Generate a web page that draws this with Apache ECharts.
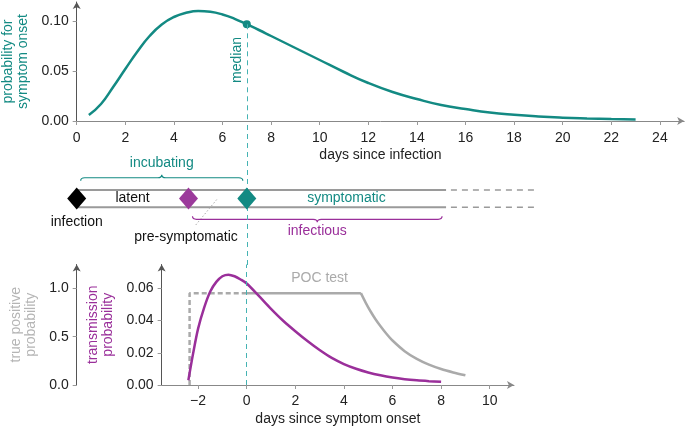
<!DOCTYPE html>
<html><head><meta charset="utf-8">
<script src="https://cdn.jsdelivr.net/npm/echarts@6/dist/echarts.min.js"></script>
<style>html,body{margin:0;padding:0;background:#fff}#c{width:685px;height:428px}</style>
</head><body><div id="c"></div>
<script>
// ---------------- data ----------------
// top: incubation period distribution
const onsetDays = [0.5,1,1.5,2,2.5,3,3.5,4,4.5,5,5.5,6,6.5,7,7.5,8,9,10,11,12,13,14,15,16,17,18,19,20,21,22,23];
const onsetProb = [0.006,0.017,0.034,0.052,0.0695,0.085,0.0965,0.104,0.1082,0.110,0.1092,0.1065,0.1022,0.0967,0.091,0.085,0.073,0.061,0.049,0.038,0.029,0.022,0.016,0.012,0.0085,0.0062,0.0045,0.0033,0.0025,0.0019,0.0015];
const medianDay = 7;
const medianProb = 0.0967;
const topXTicks = [0,2,4,6,8,10,12,14,16,18,20,22,24];
const topYTicks = [0,0.05,0.10];

// middle: timeline (days since infection)
const eventNames = ['infection','infectious onset','symptom onset'];
const eventDays = [0, 4.6, 7];
const railSolidEnd = 15.2;
const railDashedEnd = 19;
const phaseNames = ['latent','symptomatic'];
const phaseDays = [2.3, 11.1];
const braceNames = ['incubating','infectious'];
const braceStart = [0, 4.6];
const braceEnd = [7, 15.2];

// bottom: days since symptom onset
const transDays = [-2.4,-2.2,-2,-1.75,-1.5,-1.25,-1,-0.75,-0.5,-0.25,0,0.5,1,1.5,2,2.5,3,3.5,4,4.5,5,5.5,6,6.5,7,7.5,8];
const transProb = [0.003,0.020,0.035,0.048,0.058,0.064,0.0675,0.0685,0.0675,0.0655,0.063,0.0553,0.0473,0.0399,0.0334,0.0273,0.0217,0.0168,0.0130,0.0101,0.0078,0.0060,0.0046,0.0036,0.0029,0.0024,0.0020];
const pocLeadDays = [-2.35,-2.35,0];
const pocLeadProb = [0,0.95,0.95];
const pocPlateauDays = [0,4.7];
const pocPlateauProb = [0.95,0.95];
const pocDecayDays = [4.7,4.9,5.1,5.3,5.5,5.75,6,6.5,7,7.5,8,8.5,9];
const pocDecayProb = [0.95,0.85,0.76,0.68,0.61,0.53,0.46,0.35,0.27,0.21,0.165,0.13,0.10];
const bottomXTicks = [-2,0,2,4,6,8,10];
const transTicks = [0,0.02,0.04,0.06];
const tpTicks = [0,0.5,1.0];

// ---------------- styling / layout ----------------
const FONT = "'Liberation Sans', Arial, Helvetica, sans-serif";
const TEAL = '#138a83', PURPLE = '#9a2f9a', GRAY = '#aaaaaa', MED = '#45b3b3', TXT = '#222';
const PXD = 24.3;
// positions within the middle panel (0 = bottom, 1 = top)
const MID = {railTop:0.521, railBot:0.401, rail:0.462, braceAbove:0.606, braceAboveLabel:0.706,
             braceBelow:0.317, braceBelowLabel:0.236, eventLabel:0.301, presymLabel:0.192, leaderStart:0.278};

const zip = (a,b) => a.map((v,i)=>[v,b[i]]);
const axLine = (c) => ({show:true, onZero:false, symbol:['none','arrow'], symbolSize:[6,7], lineStyle:{color:c, width:1}});
const lbl = {color:TXT, fontSize:14, fontFamily:FONT};

function valAxis(o){
  return Object.assign({type:'value', splitLine:{show:false}}, o);
}

const chart = echarts.init(document.getElementById('c'));
const option = {
  animation:false,
  textStyle:{fontFamily:FONT},
  grid:[
    {left:76.7, top:2, width:25*PXD, height:119, outerBoundsMode:'none'},
    {left:76.7, top:121, width:25*PXD, height:144, outerBoundsMode:'none'},
    {left:246.7-3.5*PXD, top:264.5, width:14.5*PXD, height:120.5, outerBoundsMode:'none'}
  ],
  xAxis:[
    valAxis({gridIndex:0, min:0, max:25, axisLine:axLine('#888'),
      axisTick:{show:true, customValues:topXTicks, length:4, lineStyle:{color:'#999'}},
      axisLabel:Object.assign({customValues:topXTicks, margin:10}, lbl),
      name:'days since infection', nameLocation:'middle', nameGap:27, nameTextStyle:lbl}),
    valAxis({gridIndex:1, min:0, max:25, show:false}),
    valAxis({gridIndex:2, min:-3.5, max:11, axisLine:axLine('#888'),
      axisTick:{show:true, customValues:bottomXTicks, length:4, lineStyle:{color:'#999'}},
      axisLabel:Object.assign({customValues:bottomXTicks, margin:9, formatter:v=> v<0 ? '\u2212'+Math.abs(v) : String(v)}, lbl),
      name:'days since symptom onset', nameLocation:'middle', nameGap:27, nameTextStyle:lbl})
  ],
  yAxis:[
    valAxis({gridIndex:0, min:0, max:0.119, axisLine:axLine('#555'),
      axisTick:{show:true, customValues:topYTicks, length:4, lineStyle:{color:'#999'}},
      axisLabel:Object.assign({customValues:topYTicks, margin:8, formatter:v=>v.toFixed(2)}, lbl),
      name:'probability for\nsymptom onset', nameLocation:'middle', nameRotate:90, nameGap:46,
      nameTextStyle:{color:TEAL, fontSize:14, lineHeight:15, fontFamily:FONT}}),
    valAxis({gridIndex:1, min:0, max:1, show:false}),
    valAxis({gridIndex:2, min:0, max:0.0748, position:'left', offset:0, axisLine:axLine('#555'),
      axisTick:{show:true, customValues:transTicks, length:4, lineStyle:{color:'#999'}},
      axisLabel:Object.assign({customValues:transTicks, margin:8, formatter:v=>v.toFixed(2)}, lbl),
      name:'transmission\nprobability', nameLocation:'middle', nameRotate:90, nameGap:42,
      nameTextStyle:{color:PURPLE, fontSize:14, lineHeight:15, fontFamily:FONT}}),
    valAxis({gridIndex:2, min:0, max:1.246, position:'left', offset:246.7-3.5*PXD-76.7, axisLine:axLine('#555'),
      axisTick:{show:true, customValues:tpTicks, length:4, lineStyle:{color:'#999'}},
      axisLabel:Object.assign({customValues:tpTicks, margin:8, formatter:v=>v.toFixed(1)}, lbl),
      name:'true positive\nprobability', nameLocation:'middle', nameRotate:90, nameGap:37,
      nameTextStyle:{color:'#b5b5b5', fontSize:14, lineHeight:15, fontFamily:FONT}})
  ],
  series:[]
};

const S = option.series;
const medianLine = (spec) => ({symbol:'none', silent:true, label:{show:false},
  lineStyle:{color:MED, width:1, type:[5,4], opacity:1}, data:spec});

// ---- top panel ----
S.push({type:'line', xAxisIndex:0, yAxisIndex:0, data:zip(onsetDays,onsetProb), smooth:0.5, showSymbol:false,
  lineStyle:{color:TEAL, width:2.5}, z:3,
  markLine:medianLine([[{coord:[medianDay,medianProb]},{coord:[medianDay,0]}]])});
S.push({type:'scatter', xAxisIndex:0, yAxisIndex:0, data:[[medianDay,medianProb]], symbolSize:8,
  itemStyle:{color:TEAL, opacity:1}, z:4});
S.push({type:'scatter', xAxisIndex:0, yAxisIndex:0, data:[{value:[medianDay-0.4,0.061], name:'median'}],
  symbolSize:1, itemStyle:{color:'transparent'}, clip:false,
  label:{show:true, position:'inside', rotate:90, formatter:'{b}', color:TEAL, fontSize:14, fontFamily:FONT, opacity:1}});

// ---- middle panel (timeline) ----
const railSolid = (y) => ({type:'line', xAxisIndex:1, yAxisIndex:1, data:[[eventDays[0],y],[railSolidEnd,y]],
  showSymbol:false, clip:false, lineStyle:{color:'#9a9a9a', width:2}, z:2});
const railDash = (y) => ({type:'line', xAxisIndex:1, yAxisIndex:1, data:[[railSolidEnd+0.2,y],[railDashedEnd,y]],
  showSymbol:false, clip:false, lineStyle:{color:'#9a9a9a', width:1.5, type:[6,5]}, z:2});
const r1 = railSolid(MID.railTop);
r1.markLine = medianLine([{xAxis:medianDay}]);
S.push(r1, railSolid(MID.railBot), railDash(MID.railTop), railDash(MID.railBot));

// leader from pre-symptomatic label to middle of pre-symptomatic period
S.push({type:'line', xAxisIndex:1, yAxisIndex:1, showSymbol:false, clip:false,
  data:[[eventDays[1]+0.3, MID.leaderStart],[(eventDays[1]+eventDays[2])/2, MID.rail]],
  lineStyle:{color:'#aaa', width:1, type:[1.5,2]}, z:2});

// braces
S.push({type:'custom', xAxisIndex:1, yAxisIndex:1, clip:false, z:3,
  data: braceNames.map((n,i)=>[braceStart[i], braceEnd[i], i]),
  renderItem:(params, api)=>{
    const i = api.value(2);
    const yv = i===0 ? MID.braceAbove : MID.braceBelow;
    const p0 = api.coord([api.value(0), yv]), p1 = api.coord([api.value(1), yv]);
    const x0 = p0[0]+4, x1 = p1[0]-4, y = p0[1], xm = (x0+x1)/2, h = (i===0?1:-1)*3, r = 4;
    const d = `M${x0},${y+h} Q${x0},${y} ${x0+r},${y} L${xm-r},${y} Q${xm},${y} ${xm},${y-h} Q${xm},${y} ${xm+r},${y} L${x1-r},${y} Q${x1},${y} ${x1},${y+h}`;
    return {type:'path', shape:{pathData:d}, style:{fill:'none', stroke:i===0?TEAL:PURPLE, lineWidth:1.2}};
  }});

// diamonds
const diamondColors = ['#000000', '#9b3a9b', TEAL];
S.push({type:'scatter', xAxisIndex:1, yAxisIndex:1, clip:false, symbol:'diamond', symbolSize:[19,22], z:5,
  data: eventDays.map((d,i)=>({value:[d, MID.rail], name:eventNames[i], itemStyle:{color:diamondColors[i], opacity:1}}))});

// text labels in timeline
const tl = (x,y,text,color) => ({value:[x,y], name:text, label:{color:color}});
S.push({type:'scatter', xAxisIndex:1, yAxisIndex:1, clip:false, symbolSize:1, itemStyle:{color:'transparent'}, z:6,
  label:{show:true, position:'inside', formatter:'{b}', fontSize:14, fontFamily:FONT, opacity:1},
  data:[
    tl(phaseDays[0], MID.rail, phaseNames[0], '#111'),
    tl(phaseDays[1], MID.rail, phaseNames[1], TEAL),
    tl(eventDays[0], MID.eventLabel, 'infection', '#111'),
    tl(eventDays[1]-0.1, MID.presymLabel, 'pre-symptomatic', '#111'),
    tl((braceStart[0]+braceEnd[0])/2, MID.braceAboveLabel, braceNames[0], TEAL),
    tl((braceStart[1]+braceEnd[1])/2, MID.braceBelowLabel, braceNames[1], PURPLE)
  ]});

// ---- bottom panel ----
S.push({type:'line', xAxisIndex:2, yAxisIndex:3, data:zip(pocLeadDays,pocLeadProb), showSymbol:false,
  lineStyle:{color:GRAY, width:2.5, type:[5,3]}, z:2,
  markLine:medianLine([{xAxis:0}])});
S.push({type:'line', xAxisIndex:2, yAxisIndex:3, data:zip(pocPlateauDays,pocPlateauProb), showSymbol:false,
  lineStyle:{color:GRAY, width:2.5}, z:2});
S.push({type:'line', xAxisIndex:2, yAxisIndex:3, data:zip(pocDecayDays,pocDecayProb), showSymbol:false, smooth:0.3,
  lineStyle:{color:GRAY, width:2.5}, z:2});
S.push({type:'line', xAxisIndex:2, yAxisIndex:2, data:zip(transDays,transProb), showSymbol:false, smooth:0.3,
  lineStyle:{color:PURPLE, width:2.5}, z:4});
S.push({type:'scatter', xAxisIndex:2, yAxisIndex:3, clip:false, symbolSize:1, itemStyle:{color:'transparent'},
  data:[{value:[3.0,1.11], name:'POC test'}],
  label:{show:true, position:'inside', formatter:'{b}', color:GRAY, fontSize:14, fontFamily:FONT, opacity:1}});

chart.setOption(option);
</script>
</body></html>
